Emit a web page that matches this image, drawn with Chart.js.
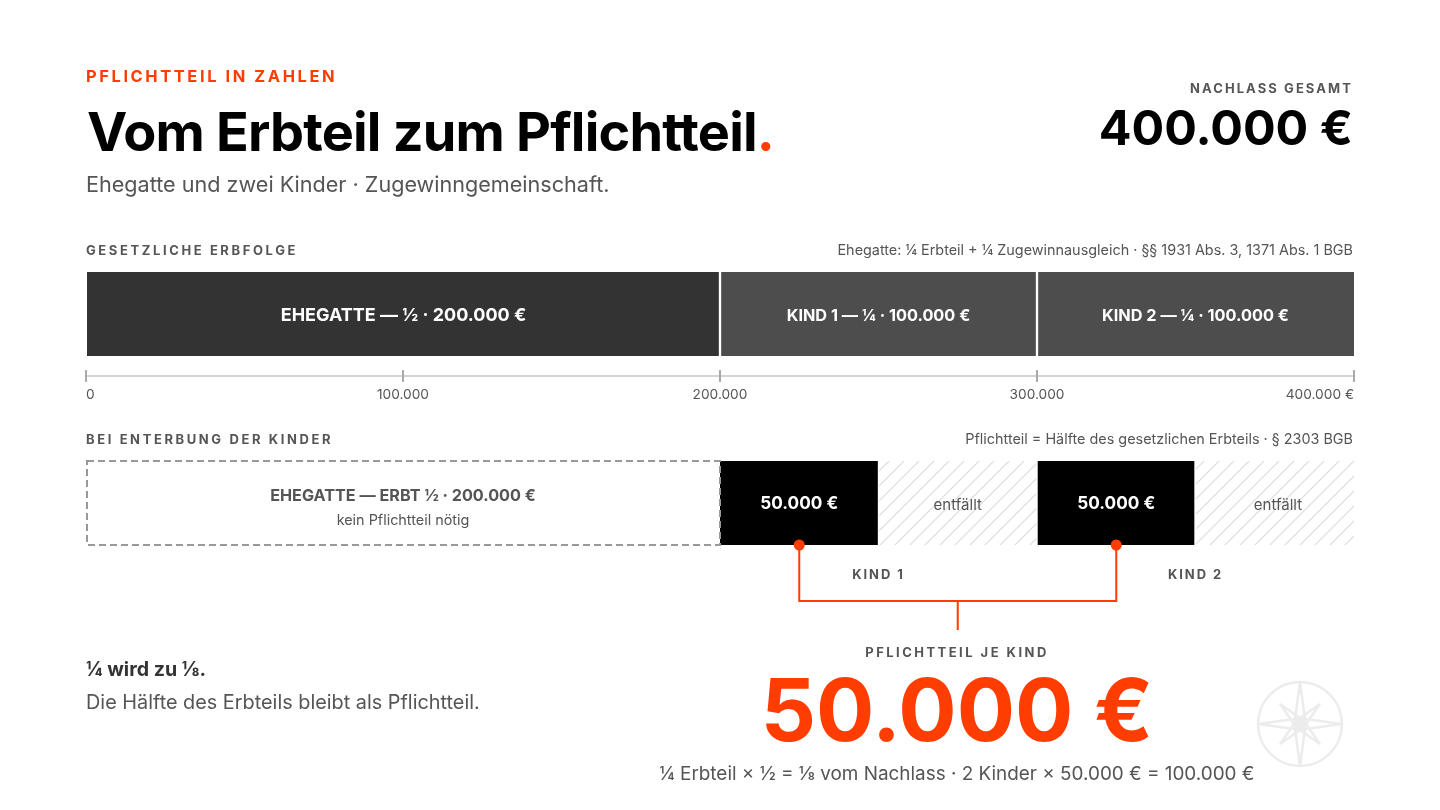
<!DOCTYPE html>
<html lang="de">
<head>
<meta charset="utf-8">
<title>Vom Erbteil zum Pflichtteil</title>
<script src="https://cdn.jsdelivr.net/npm/chart.js@4"></script>
<style>
  html, body { margin: 0; padding: 0; background: #fff; }
  body { width: 1440px; height: 810px; overflow: hidden; position: relative; font-family: Inter, sans-serif; }
  canvas { position: absolute; left: 0; top: 0; }
  .t { position: absolute; white-space: nowrap; line-height: 1; }
  .sec { font-size: 13px; font-weight: 700; letter-spacing: .2em; color: #555; }
  .note { font-size: 14.4px; color: #555; right: 87px; }
  .c { transform: translateX(-50%); }
</style>
</head>
<body>
<canvas id="erbfolge" width="1440" height="810"></canvas>
<canvas id="enterbung" width="1440" height="810"></canvas>

<div class="t" style="left:86px;top:68px;font-size:16.5px;font-weight:700;letter-spacing:.155em;color:#ff3d00">PFLICHTTEIL IN ZAHLEN</div>
<div class="t" style="left:87px;top:105px;font-size:54px;font-weight:700;letter-spacing:-.015em;color:#000">Vom Erbteil zum Pflichtteil<span style="color:#ff3d00">.</span></div>
<div class="t" style="left:86px;top:174px;font-size:21.6px;color:#555">Ehegatte und zwei Kinder · Zugewinngemeinschaft.</div>
<div class="t" style="right:87px;top:82px;font-size:13px;font-weight:700;letter-spacing:.16em;color:#555">NACHLASS GESAMT</div>
<div class="t" style="right:87px;top:104px;font-size:48.5px;font-weight:700;color:#000">400.000 €</div>

<div class="t sec" style="left:86px;top:244px">GESETZLICHE ERBFOLGE</div>
<div class="t note" style="top:243px">Ehegatte: ¼ Erbteil + ¼ Zugewinnausgleich · §§ 1931 Abs. 3, 1371 Abs. 1 BGB</div>
<div class="t sec" style="left:86px;top:433px">BEI ENTERBUNG DER KINDER</div>
<div class="t note" style="top:432px">Pflichtteil = Hälfte des gesetzlichen Erbteils · § 2303 BGB</div>

<div class="t" style="left:86px;top:660px;font-size:19.6px;font-weight:700;color:#333">¼ wird zu ⅛.</div>
<div class="t" style="left:86px;top:693px;font-size:19.85px;color:#555">Die Hälfte des Erbteils bleibt als Pflichtteil.</div>

<div class="t c sec" style="left:957px;top:646px;letter-spacing:.19em">PFLICHTTEIL JE KIND</div>
<div class="t c" style="left:957px;top:667px;font-size:86.6px;font-weight:700;color:#ff3d00">50.000 €</div>
<div class="t c" style="left:957px;top:765px;font-size:18.9px;color:#555">¼ Erbteil × ½ = ⅛ vom Nachlass · 2 Kinder × 50.000 € = 100.000 €</div>

<svg style="position:absolute;left:1256px;top:680px" width="88" height="88" viewBox="-44 -44 88 88">
  <circle r="42" fill="none" stroke="#ececec" stroke-width="2.5"/>
  <path d="M0-42 5-5 42 0 5 5 0 42-5 5-42 0-5-5Z" fill="none" stroke="#ececec" stroke-width="2.5"/>
  <path d="M-20-20 0-6 20-20 6 0 20 20 0 6-20 20-6 0Z" fill="none" stroke="#ececec" stroke-width="2.5"/>
  <circle r="7" fill="#ececec"/>
</svg>

<script>
const tickValues = [0, 100000, 200000, 300000, 400000];
const tickLabels = ['0', '100.000', '200.000', '300.000', '400.000 €'];

const erbfolgeValues = [200000, 100000, 100000];
const erbfolgeLabels = ['EHEGATTE — ½ · 200.000 €', 'KIND 1 — ¼ · 100.000 €', 'KIND 2 — ¼ · 100.000 €'];

const enterbungValues = [200000, 50000, 50000, 50000, 50000];
const enterbungLabels = ['EHEGATTE — ERBT ½ · 200.000 €', '50.000 €', 'entfällt', '50.000 €', 'entfällt'];
const ehegatteNote = 'kein Pflichtteil nötig';
const entfaelltValues = [275000, 376000];

const kindLabels = ['KIND 1', 'KIND 2'];
const kindLabelValues = [250000, 350000];
const pflichtteilMarks = [225000, 325000];
const bracketStem = 275000;

const ORANGE = '#ff3d00';

// Schraffur fuer "entfaellt"
function hatch() {
  const c = document.createElement('canvas');
  c.width = c.height = 15;
  const g = c.getContext('2d');
  g.strokeStyle = '#dcdcdc';
  g.lineWidth = 1.2;
  g.beginPath();
  g.moveTo(-2, 17); g.lineTo(17, -2);
  g.moveTo(-2, 2); g.lineTo(2, -2);
  g.moveTo(13, 17); g.lineTo(17, 13);
  g.stroke();
  return g.createPattern(c, 'repeat');
}

// gaps: je Segment [links, rechts] in Pixel, weisser Rand
function datasets(values, colors, gaps) {
  return values.map((v, i) => ({
    data: [v],
    backgroundColor: colors[i],
    borderColor: '#fff',
    borderWidth: { left: gaps[i][0], right: gaps[i][1], top: 0, bottom: 0 },
    borderSkipped: false,
    barThickness: 84,
    stack: 's'
  }));
}

function centerOf(chart, i) {
  const bar = chart.getDatasetMeta(i).data[0];
  return { x: (bar.base + bar.x) / 2, y: bar.y };
}

function text(ctx, str, x, y, font, color, spacing) {
  ctx.font = font;
  ctx.fillStyle = color;
  ctx.letterSpacing = spacing || '0px';
  ctx.textAlign = 'center';
  ctx.textBaseline = 'middle';
  ctx.fillText(str, x, y);
}

const erbfolgeDraw = {
  id: 'erbfolgeDraw',
  // Achsenlinie laeuft mitten durch die Tick-Striche
  beforeDraw(chart) {
    const s = chart.scales.x, ctx = chart.ctx;
    ctx.save();
    ctx.strokeStyle = '#d4d4d4';
    ctx.lineWidth = 2;
    ctx.beginPath();
    ctx.moveTo(s.left, s.top + 6);
    ctx.lineTo(s.right, s.top + 6);
    ctx.stroke();
    ctx.restore();
  },
  afterDatasetsDraw(chart) {
    const ctx = chart.ctx;
    erbfolgeLabels.forEach((l, i) => {
      const p = centerOf(chart, i);
      text(ctx, l, p.x, p.y + 2, i === 0 ? '700 18px Inter' : '700 16.3px Inter', '#fff');
    });
  }
};

const enterbungDraw = {
  id: 'enterbungDraw',
  afterDatasetsDraw(chart) {
    const ctx = chart.ctx, s = chart.scales.x;
    const first = chart.getDatasetMeta(0).data[0];
    const top = first.y - first.height / 2, bottom = first.y + first.height / 2;

    ctx.save();
    ctx.strokeStyle = '#999';
    ctx.lineWidth = 2;
    ctx.setLineDash([7, 4]);
    ctx.strokeRect(first.base + 1, top, first.x - first.base - 1, first.height);
    ctx.restore();

    const head = centerOf(chart, 0);
    text(ctx, enterbungLabels[0], head.x, head.y - 7, '700 16.2px Inter', '#555');
    text(ctx, ehegatteNote, head.x, head.y + 18, '400 14.4px Inter', '#555');
    let e = 0;
    for (let i = 1; i < enterbungLabels.length; i++) {
      const p = centerOf(chart, i);
      if (i % 2) text(ctx, enterbungLabels[i], p.x, p.y + 1, '700 17.2px Inter', '#fff');
      else text(ctx, enterbungLabels[i], s.getPixelForValue(entfaelltValues[e++]), p.y + 2, '400 15px Inter', '#555');
    }
    kindLabels.forEach((l, i) => {
      text(ctx, l, s.getPixelForValue(kindLabelValues[i]), bottom + 30, '700 13px Inter', '#555', '1.9px');
    });

    // Klammer von beiden Pflichtteilen zur Summe
    const xa = s.getPixelForValue(pflichtteilMarks[0]);
    const xb = s.getPixelForValue(pflichtteilMarks[1]);
    const xs = s.getPixelForValue(bracketStem);
    ctx.save();
    ctx.strokeStyle = ORANGE;
    ctx.lineWidth = 2;
    ctx.beginPath();
    ctx.moveTo(xa, bottom);
    ctx.lineTo(xa, bottom + 56);
    ctx.lineTo(xb, bottom + 56);
    ctx.lineTo(xb, bottom);
    ctx.moveTo(xs, bottom + 56);
    ctx.lineTo(xs, bottom + 85);
    ctx.stroke();
    ctx.fillStyle = ORANGE;
    pflichtteilMarks.forEach(v => {
      ctx.beginPath();
      ctx.arc(s.getPixelForValue(v), bottom, 5.5, 0, Math.PI * 2);
      ctx.fill();
    });
    ctx.restore();
  }
};

function baseOptions(padding, xExtra) {
  return {
    indexAxis: 'y',
    responsive: false,
    animation: false,
    layout: { padding },
    plugins: { legend: { display: false }, tooltip: { enabled: false } },
    scales: {
      y: { display: false, stacked: true },
      x: Object.assign({ stacked: true, min: 0, max: 400000 }, xExtra)
    }
  };
}

new Chart(document.getElementById('erbfolge'), {
  type: 'bar',
  data: { labels: ['Erbfolge'], datasets: datasets(erbfolgeValues, ['#333333', '#4d4d4d', '#4d4d4d'], [[0, 1.5], [1.5, 1.5], [1.5, 0]]) },
  options: baseOptions({ left: 86, right: 86, top: 258, bottom: 400 }, {
    afterBuildTicks(s) { s.ticks = tickValues.map(value => ({ value })); },
    afterFit(s) { s.height = 40; },
    border: { display: false },
    grid: { drawOnChartArea: false, drawTicks: true, tickLength: 12, color: '#aaa', lineWidth: 2 },
    ticks: {
      align: 'inner',
      maxRotation: 0,
      autoSkip: false,
      padding: 5,
      color: '#555',
      font: { family: 'Inter', size: 13.7 },
      callback: (v) => tickLabels[tickValues.indexOf(v)]
    }
  }),
  plugins: [erbfolgeDraw]
});

new Chart(document.getElementById('enterbung'), {
  type: 'bar',
  data: { labels: ['Enterbung'], datasets: datasets(enterbungValues, ['rgba(0,0,0,0)', '#000', hatch(), '#000', hatch()], [[0, 0], [0, 1], [1, 1], [1, 1.5], [1, 0]]) },
  options: baseOptions({ left: 86, right: 86, top: 447, bottom: 251 }, { display: false }),
  plugins: [enterbungDraw]
});
</script>
</body>
</html>
